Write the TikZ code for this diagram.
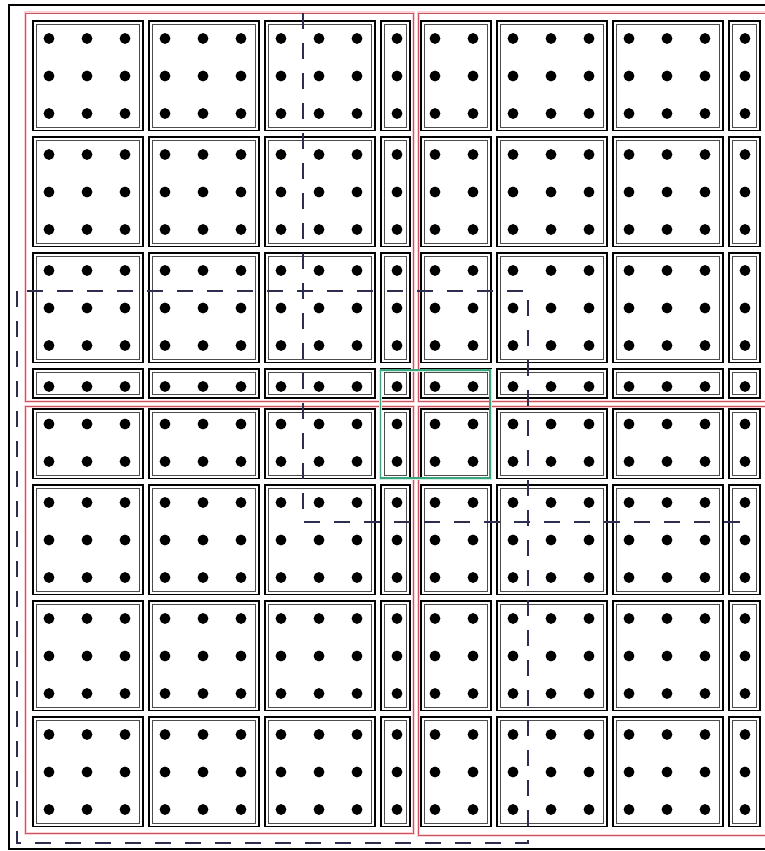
\documentclass[tikz,border=0pt]{standalone}
\definecolor{redline}{RGB}{200,85,95}
\definecolor{pinkhalo}{RGB}{250,210,216}
\definecolor{dashnavy}{RGB}{45,45,80}
\definecolor{greenline}{RGB}{60,165,125}
\definecolor{greenhalo}{RGB}{205,240,228}
\tikzset{
  cellbox/.style={draw=black, line width=1.7pt},
  cellinner/.style={draw=black!70, line width=0.9pt},
  dotmark/.style={fill=black},
  quadhalo/.style={draw=pinkhalo, line width=3pt},
  quadline/.style={draw=redline, line width=0.9pt},
  halodash/.style={draw=dashnavy, line width=1.4pt, dash pattern=on 16pt off 14pt},
  outerframe/.style={draw=black, line width=1.5pt},
  greenglow/.style={draw=greenhalo, line width=3pt},
  greenbox/.style={draw=greenline, line width=1.3pt}
}
\newcommand\mycellpiece[4]{%
  \draw[cellbox] (#1,#2) rectangle (#3,#4);
  \draw[cellinner] (#1+3.2,#2+3.2) rectangle (#3-3.2,#4-3.2);}
\begin{document}
\begin{tikzpicture}[x=1pt,y=-1pt]
\useasboundingbox (0,0) rectangle (765,851);
\fill[white] (0,0) rectangle (765,851);
\clip (0,0) rectangle (765,851);
% outer frame
\draw[outerframe] (9,5) rectangle (820,849);
% cell boxes
\foreach \xa/\xb in {33/143,149/259,265/375,381/410,421/491,497/607,613/723,729/760}{
  \foreach \ya/\yb in {21/130.5,137/246.5,253/362.5,369/398,409/478.5,485/594.5,601/710.5,717/826.5}{
    \mycellpiece{\xa}{\ya}{\xb}{\yb}
  }
}
% dots
\foreach \c in {0,...,6}{
  \foreach \i in {16,54,92}{
    \foreach \r in {0,...,6}{
      \foreach \j in {17.5,55,92.5}{
        \fill[dotmark] (33+116*\c+\i, 21+116*\r+\j) circle (5.4pt);
      }
    }
  }
}
% red quadrants
\foreach \xa/\ya/\xb/\yb in {25/13/413/401, 418/13/820/401, 25/406/413/833, 418/406/820/835}{
  \draw[quadhalo] (\xa,\ya) rectangle (\xb,\yb);
}
\foreach \xa/\ya/\xb/\yb in {25/13/413/401, 418/13/820/401, 25/406/413/833, 418/406/820/835}{
  \draw[quadline] (\xa,\ya) rectangle (\xb,\yb);
}
% dashed halo rectangles
\draw[halodash] (303,13) -- (303,522) -- (745,522);
\draw[halodash] (17,291) rectangle (528,843);
% green cell
\draw[greenglow] (380.5,370) rectangle (490,478);
\draw[greenbox] (380.5,370) rectangle (490,478);
\end{tikzpicture}
\end{document}
